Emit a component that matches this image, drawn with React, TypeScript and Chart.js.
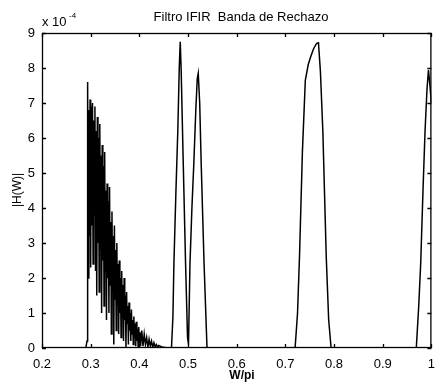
import React, { useEffect, useRef } from "react";
import { Chart, registerables } from "chart.js";

Chart.register(...registerables);

const TITLE = "Filtro IFIR  Banda de Rechazo";
const X_LABEL = "W/pi";
const Y_LABEL = "|H(W)|";
const Y_EXP = "-4";

const xTicks = [0.2, 0.3, 0.4, 0.5, 0.6, 0.7, 0.8, 0.9, 1];
const xTickLabels = ["0.2", "0.3", "0.4", "0.5", "0.6", "0.7", "0.8", "0.9", "1"];
const yTicks = [0, 1, 2, 3, 4, 5, 6, 7, 8, 9];
const yTickLabels = ["0", "1", "2", "3", "4", "5", "6", "7", "8", "9"];

// frequency (W/pi) samples and magnitude (x 1e-4)
const wValues = [
  0.2, 0.29, 0.2925,
  0.29375, 0.295, 0.29625, 0.2975, 0.29875, 0.3, 0.30125, 0.3025, 0.30375, 0.305,
  0.30625, 0.3075, 0.30875, 0.31, 0.31125, 0.3125, 0.31375, 0.315, 0.31625, 0.3175,
  0.31875, 0.32, 0.32125, 0.3225, 0.32375, 0.325, 0.32625, 0.3275, 0.32875, 0.33,
  0.33125, 0.3325, 0.33375, 0.335, 0.33625, 0.3375, 0.33875, 0.34, 0.34125, 0.3425,
  0.34375, 0.345, 0.34625, 0.3475, 0.34875, 0.35, 0.35125, 0.3525, 0.35375, 0.355,
  0.35625, 0.3575, 0.35875, 0.36, 0.36125, 0.3625, 0.36375, 0.365, 0.36625, 0.3675,
  0.36875, 0.37, 0.37125, 0.3725, 0.37375, 0.375, 0.37625, 0.3775, 0.37875, 0.38,
  0.38125, 0.3825, 0.38375, 0.385, 0.38625, 0.3875, 0.38875, 0.39, 0.39125, 0.3925,
  0.39375, 0.395, 0.39625, 0.3975, 0.39875, 0.4, 0.40125, 0.4025, 0.405, 0.4075,
  0.41, 0.4125, 0.415, 0.4175, 0.42, 0.4225, 0.425, 0.4275, 0.43, 0.4325, 0.435,
  0.4375, 0.44, 0.445, 0.45, 0.46, 0.466,
  0.469, 0.471, 0.475, 0.479, 0.482, 0.484, 0.486, 0.49, 0.495, 0.499, 0.501,
  0.504, 0.508, 0.512, 0.516, 0.519, 0.521, 0.524, 0.527, 0.533, 0.539,
  0.72, 0.725, 0.729, 0.735, 0.741, 0.747, 0.752, 0.758, 0.764, 0.768, 0.772, 0.777,
  0.784, 0.789, 0.794,
  0.969, 0.974, 0.978, 0.983, 0.987, 0.991, 0.994, 0.997, 1.0,
];
const hValues = [
  0, 0, 0.2,
  7.6, 2.0, 6.8, 3.2, 7.1, 2.3, 6.9, 3.5, 7.0, 2.4,
  6.5, 3.8, 6.9, 2.2, 6.2, 1.5, 6.6, 3.0, 6.0, 1.6,
  6.4, 2.8, 5.5, 1.0, 5.8, 2.5, 5.2, 1.2, 5.6, 2.2,
  4.5, 0.8, 4.7, 2.0, 4.2, 1.0, 4.6, 1.8, 3.6, 0.4,
  3.9, 1.6, 3.2, 0.1, 3.5, 1.4, 2.8, 0.5, 3.0, 1.2,
  2.4, 0.4, 2.5, 1.0, 2.0, 0.3, 2.2, 0.9, 1.8, 0.2,
  2.0, 0.8, 1.5, 0.0, 1.6, 0.7, 1.2, 0.1, 1.3, 0.5,
  1.0, 0.2, 1.1, 0.4, 0.8, 0.1, 0.9, 0.3, 0.7, 0.05,
  0.75, 0.2, 0.55, 0.05, 0.6, 0.15, 0.45, 0.05, 0.5, 0.05,
  0.4, 0.1, 0.3, 0.02, 0.25, 0.05, 0.2, 0.02, 0.15, 0.03, 0.1,
  0.02, 0.07, 0.04, 0.02, 0.0, 0.0,
  0.9, 2.4, 4.4, 6.2, 8.0, 8.75, 7.9, 5.4, 2.4, 0.3, 0.1,
  2.4, 4.0, 5.3, 6.8, 7.7, 7.85, 7.0, 5.3, 2.4, 0.0,
  0.0, 1.0, 2.6, 5.6, 7.65, 8.1, 8.32, 8.55, 8.7, 8.72, 7.9, 6.2,
  2.6, 0.8, 0.0,
  0.0, 1.2, 2.4, 4.6, 6.2, 7.4, 7.94, 7.5, 7.0,
];

const FONT = "'Liberation Sans', Arial, Helvetica, sans-serif";

const decorPlugin = {
  id: "decor",
  afterDraw(chart: any) {
    const { ctx, chartArea, scales } = chart;
    const { left, right, top, bottom } = chartArea;
    ctx.save();
    ctx.strokeStyle = "#000";
    ctx.lineWidth = 1.3;
    ctx.strokeRect(left + 0.5, top + 0.5, right - left - 1, bottom - top - 1);
    const tl = 4;
    ctx.beginPath();
    xTicks.forEach((v) => {
      const px = Math.round(scales.x.getPixelForValue(v)) + 0.5;
      ctx.moveTo(px, bottom);
      ctx.lineTo(px, bottom - tl);
      ctx.moveTo(px, top);
      ctx.lineTo(px, top + tl);
    });
    yTicks.forEach((v) => {
      const py = Math.round(scales.y.getPixelForValue(v)) + 0.5;
      ctx.moveTo(left, py);
      ctx.lineTo(left + tl, py);
      ctx.moveTo(right, py);
      ctx.lineTo(right - tl, py);
    });
    ctx.stroke();

    ctx.fillStyle = "#000";
    ctx.font = `13px ${FONT}`;
    ctx.textAlign = "center";
    ctx.textBaseline = "middle";
    ctx.fillText(TITLE, 241, 17);
    ctx.font = `bold 12px ${FONT}`;
    ctx.fillText(X_LABEL, 242, 376);
    ctx.save();
    ctx.translate(18, 190);
    ctx.rotate(-Math.PI / 2);
    ctx.font = `12px ${FONT}`;
    ctx.fillText(Y_LABEL, 0, 0);
    ctx.restore();
    ctx.textAlign = "left";
    ctx.font = `13px ${FONT}`;
    ctx.fillText("x 10", left, 22);
    ctx.font = `8px ${FONT}`;
    ctx.fillText(Y_EXP, left + 27, 16);
    ctx.restore();
  },
};

export default function App() {
  const ref = useRef<HTMLCanvasElement>(null);
  useEffect(() => {
    document.body.style.margin = "0";
    const data = wValues.map((w, i) => ({ x: w, y: hValues[i] }));
    const chart = new Chart(ref.current!, {
      type: "line",
      data: {
        datasets: [
          {
            data,
            borderColor: "#000",
            borderWidth: 1.5,
            pointRadius: 0,
            tension: 0,
            fill: false,
          },
        ],
      },
      options: {
        animation: false,
        responsive: false,
        layout: { padding: { left: 0, right: 3, top: 33, bottom: 0 } },
        plugins: { legend: { display: false }, tooltip: { enabled: false }, title: { display: false } },
        scales: {
          x: {
            type: "linear",
            min: 0.2,
            max: 1,
            afterBuildTicks: (s: any) => {
              s.ticks = xTicks.map((v) => ({ value: v }));
            },
            afterFit: (s: any) => {
              s.height = 35;
            },
            grid: { display: false, drawTicks: false },
            border: { display: false },
            ticks: {
              padding: 9,
              color: "#000",
              font: { family: FONT, size: 13 },
              maxRotation: 0,
              autoSkip: false,
              callback: (v: any) => {
                const i = xTicks.findIndex((t) => Math.abs(t - Number(v)) < 1e-9);
                return i >= 0 ? xTickLabels[i] : "";
              },
            },
          },
          y: {
            type: "linear",
            min: 0,
            max: 9,
            afterBuildTicks: (s: any) => {
              s.ticks = yTicks.map((v) => ({ value: v }));
            },
            afterFit: (s: any) => {
              s.width = 42;
            },
            grid: { display: false, drawTicks: false },
            border: { display: false },
            ticks: {
              padding: 7,
              color: "#000",
              font: { family: FONT, size: 13 },
              autoSkip: false,
              callback: (v: any) => {
                const i = yTicks.indexOf(Number(v));
                return i >= 0 ? yTickLabels[i] : "";
              },
            },
          },
        },
      },
      plugins: [decorPlugin],
    });
    return () => chart.destroy();
  }, []);
  return <canvas ref={ref} width={444} height={383} style={{ display: "block" }} />;
}
